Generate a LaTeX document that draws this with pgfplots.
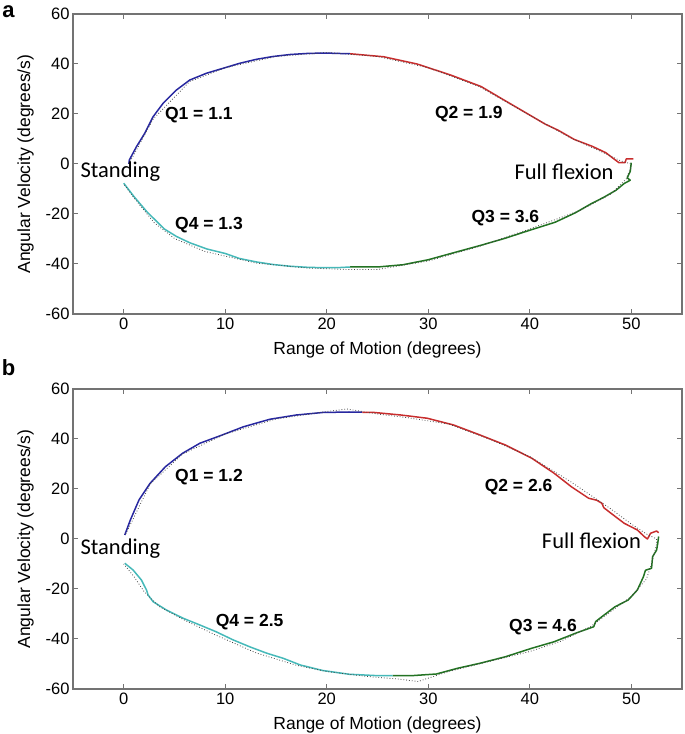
\documentclass[border=0pt]{standalone}
\usepackage{pgfplots}
\pgfplotsset{compat=1.18}
\usepackage{fontspec}
\setmainfont{Liberation Sans}
\newfontfamily\calibri{Carlito}
\definecolor{qblue}{RGB}{40,40,160}
\definecolor{qred}{RGB}{200,45,45}
\definecolor{qgreen}{RGB}{35,115,35}
\definecolor{qcyan}{RGB}{70,185,185}
\definecolor{axgray}{RGB}{115,115,115}
\definecolor{fitgray}{RGB}{70,70,70}
\tikzset{
  qlab/.style={font=\fontsize{17.5}{18}\selectfont\bfseries, anchor=center},
  plab/.style={font=\fontsize{22.5}{23}\selectfont\calibri},
  seg/.style={line width=1.5pt, line join=round},
  fit/.style={fitgray, line width=0.8pt, dotted},
}
\pgfplotsset{
  panel/.style={
    scale only axis, width=609pt, height=300pt,
    xmin=-5, xmax=55, ymin=-60, ymax=60,
    xtick={0,10,...,50}, ytick={-60,-40,...,60},
    tick align=inside, major tick length=5pt,
    axis line style={draw=axgray, line width=1.2pt},
    every tick/.style={draw=axgray, line width=1pt},
    tick label style={font=\fontsize{16.5}{17}\selectfont},
    /pgf/number format/assume math mode=true,
    xlabel={Range of Motion (degrees)},
    ylabel={Angular Velocity (degrees/s)},
    label style={font=\fontsize{17.5}{18}\selectfont},
    xlabel style={at={(axis description cs:0.5,-0.12)}, anchor=center},
    ylabel style={at={(axis description cs:-0.078,0.5)}, anchor=center},
    clip=false,
  },
}
\begin{document}
\begin{tikzpicture}
\useasboundingbox (0,0) rectangle (685pt,734pt);
% ---------------- panel a ----------------
\begin{axis}[panel, at={(73pt,420pt)}, anchor=south west]
\addplot[seg, qblue] coordinates {(0.5,0) (0.55,1.6) (1.25,6.9) (2.07,12.3) (2.89,18.9) (3.88,24.3) (5.19,29.6) (6.51,33.6) (8.15,36.3) (9.8,38.3) (11.44,40.3) (13.1,41.9) (14.7,43.0) (16.4,43.8) (18.0,44.2) (19.7,44.4) (21.3,44.2) (22.3,44.1)};
\addplot[seg, qred] coordinates {(22.3,44.1) (25.6,42.9) (28.9,40.0) (32.2,35.6) (35.2,31.0) (37.5,25.5) (39.4,21.0) (41.5,16.0) (42.8,13.5) (44.4,9.8) (46.2,7.0) (47.5,4.5) (48.3,2.0) (48.8,0.5) (49.4,0.6) (49.5,2.0) (50.2,2.0)};
\addplot[seg, qgreen] coordinates {(50.0,0.5) (49.9,-3.0) (49.6,-5.5) (49.9,-6.5) (49.3,-7.8) (48.5,-10.5) (47.3,-13.3) (46.0,-16.0) (44.5,-19.5) (42.5,-23.3) (40.0,-26.5) (37.5,-29.8) (35.2,-32.5) (32.5,-35.5) (30.0,-38.3) (27.5,-40.3) (25.0,-41.2) (22.3,-41.2)};
\addplot[seg, qcyan] coordinates {(22.3,-41.2) (21.4,-41.4) (19.7,-41.5) (18.0,-41.3) (16.4,-40.9) (14.7,-40.2) (13.1,-39.2) (11.4,-37.8) (10.0,-35.8) (8.2,-34.0) (6.5,-31.5) (5.2,-29.0) (4.0,-26.0) (3.0,-22.0) (2.3,-19.2) (1.0,-13.0) (0.0,-7.7)};
\addplot[fit] coordinates {(0.5,0) (2.9,18) (6.5,33) (10,38.5) (15,43) (20,44.6) (25,43) (30,38.5) (35,31) (40,19.5) (44,10.5) (47,5) (49,1.2) (50,0) (50,-1) (49.5,-6) (48,-12) (45,-18.5) (40,-26) (35,-33) (30,-38.8) (25,-42.2) (22,-42.2) (18,-41.6) (13,-39.6) (8,-35) (5,-29.8) (3,-23.5) (1,-13.5) (0,-8)};
\node[qlab] at (axis cs:7.4,19.5) {Q1 = 1.1};
\node[qlab] at (axis cs:34.0,20.0) {Q2 = 1.9};
\node[qlab] at (axis cs:37.6,-21.5) {Q3 = 3.6};
\node[qlab] at (axis cs:8.4,-24.4) {Q4 = 1.3};
\node[plab, anchor=west] at (axis cs:-4.6,-3.0) {Standing};
\node[plab, anchor=east] at (axis cs:48.6,-3.0) {Full flexion};
\end{axis}
% ---------------- panel b ----------------
\begin{axis}[panel, at={(73pt,45pt)}, anchor=south west]
\addplot[seg, qblue] coordinates {(0.1,1.6) (0.65,7.6) (1.5,15.6) (2.6,22.3) (4.1,28.9) (5.8,34.3) (7.5,38.3) (9.7,41.6) (11.8,44.9) (14.4,47.9) (17.0,49.6) (19.6,50.6) (22.2,50.8) (23.5,50.7)};
\addplot[seg, qred] coordinates {(23.5,50.7) (24.7,50.6) (27.3,49.6) (29.9,48.3) (32.5,45.6) (35.1,41.6) (37.6,37.6) (40.2,32.3) (42.4,26.3) (44.1,20.9) (45.8,16.3) (46.6,15.5) (47.1,14.3) (47.3,12.5) (48.0,10.3) (49.3,6.3) (50.6,3.6) (51.3,0.9) (51.6,0.0) (51.9,2.3) (52.5,3.2) (52.7,2.5)};
\addplot[seg, qgreen] coordinates {(52.7,1.0) (52.6,-2.0) (52.5,-4.4) (52.1,-7.1) (52.0,-11.7) (51.4,-12.5) (51.2,-15.1) (50.6,-20.4) (49.7,-24.4) (48.4,-27.1) (47.1,-31.1) (46.5,-33.0) (46.3,-35.1) (44.5,-37.7) (42.4,-41.1) (40.2,-43.7) (37.6,-47.1) (35.1,-49.7) (32.9,-51.7) (30.8,-54.0) (28.6,-54.6) (26.5,-54.7)};
\addplot[seg, qcyan] coordinates {(26.5,-54.7) (24.7,-54.6) (22.2,-54.1) (19.6,-52.6) (17.4,-50.4) (15.7,-47.7) (14.1,-45.7) (12.4,-43.1) (10.8,-40.4) (9.1,-37.1) (7.5,-34.4) (5.85,-31.7) (4.2,-28.4) (2.9,-25.1) (2.4,-22.4) (2.24,-20.4) (1.74,-16.4) (0.92,-12.4) (0.1,-9.7)};
\addplot[fit] coordinates {(0.2,2) (2.6,22) (5.8,34) (10,42) (15,48) (20,51) (22,52) (25,50) (28,48.5) (32,46) (36,40) (40,33) (44,23) (48,12) (50,6) (51.5,2) (52.5,0) (52.5,-2) (52,-10) (51.5,-16) (50,-23) (48,-29) (46,-35) (43,-41) (40,-45) (36,-49) (32,-53) (29,-57) (27,-56) (24,-55) (20,-53) (17,-50.5) (13,-45.5) (9,-38.3) (6,-32.5) (3.5,-27) (2,-21) (1,-15) (0,-10)};
\node[qlab] at (axis cs:8.4,24.9) {Q1 = 1.2};
\node[qlab] at (axis cs:38.9,20.7) {Q2 = 2.6};
\node[qlab] at (axis cs:41.3,-35.3) {Q3 = 4.6};
\node[qlab] at (axis cs:12.4,-33.1) {Q4 = 2.5};
\node[plab, anchor=west] at (axis cs:-4.6,-3.7) {Standing};
\node[plab, anchor=east] at (axis cs:51.3,-0.7) {Full flexion};
\end{axis}
\node[font=\fontsize{22}{22}\selectfont\bfseries] at (8.5pt,722.5pt) {a};
\node[font=\fontsize{22}{22}\selectfont\bfseries] at (8.5pt,366pt) {b};
\end{tikzpicture}
\end{document}
